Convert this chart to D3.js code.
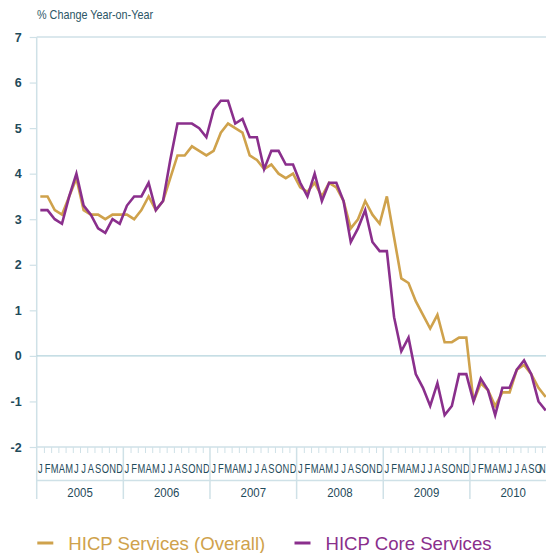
<!DOCTYPE html>
<html>
<head>
<meta charset="utf-8">
<script src="https://cdn.jsdelivr.net/npm/d3@7"></script>
<style>
  body { margin: 0; background: #fff; }
  svg { display: block; }
  text { font-family: "Liberation Sans", Arial, sans-serif; }
</style>
</head>
<body>
<div id="chart"></div>
<script>
// data: monthly values, Jan 2005 .. Nov 2010
var years = ["2005", "2006", "2007", "2008", "2009", "2010"];
var monthLabels = ["J", "F", "M", "A", "M", "J", "J", "A", "S", "O", "N", "D"];
var yTicks = [-2, -1, 0, 1, 2, 3, 4, 5, 6, 7];
var seriesNames = ["HICP Services (Overall)", "HICP Core Services"];

var overall = [
  3.5, 3.5, 3.2, 3.1, 3.5, 3.9, 3.2, 3.1, 3.1, 3.0, 3.1, 3.1,
  3.1, 3.0, 3.2, 3.5, 3.2, 3.4, 3.9, 4.4, 4.4, 4.6, 4.5, 4.4,
  4.5, 4.9, 5.1, 5.0, 4.9, 4.4, 4.3, 4.1, 4.2, 4.0, 3.9, 4.0,
  3.7, 3.6, 3.8, 3.5, 3.8, 3.7, 3.4, 2.8, 3.0, 3.4, 3.1, 2.9,
  3.5, 2.6, 1.7, 1.6, 1.2, 0.9, 0.6, 0.9, 0.3, 0.3, 0.4, 0.4,
  -1.0, -0.6, -0.75, -1.1, -0.8, -0.8, -0.3, -0.2, -0.4, -0.7, -0.9
];
var core = [
  3.2, 3.2, 3.0, 2.9, 3.5, 4.0, 3.3, 3.1, 2.8, 2.7, 3.0, 2.9,
  3.3, 3.5, 3.5, 3.8, 3.2, 3.4, 4.3, 5.1, 5.1, 5.1, 5.0, 4.8,
  5.4, 5.6, 5.6, 5.1, 5.2, 4.8, 4.8, 4.1, 4.5, 4.5, 4.2, 4.2,
  3.8, 3.5, 4.0, 3.4, 3.8, 3.8, 3.4, 2.5, 2.8, 3.2, 2.5, 2.3,
  2.3, 0.85, 0.1, 0.4, -0.4, -0.7, -1.1, -0.6, -1.3, -1.1, -0.4, -0.4,
  -1.0, -0.5, -0.75, -1.3, -0.7, -0.7, -0.3, -0.1, -0.4, -1.0, -1.2
];

var svgWidth = 546;
var svgHeight = 553;
var axisColor = "#cfe1e7";
var textColor = "#1f4b5b";
var colors = ["#cfa24c", "#8a2f8c"];

var svg = d3.select("#chart")
    .append("svg")
    .attr("width", svgWidth)
    .attr("height", svgHeight);

// scales
var nMonths = years.length * 12;
var xScale = d3.scaleLinear()
    .domain([0, nMonths])
    .range([36.7, 36.7 + nMonths * 7.22]);
var yScale = d3.scaleLinear()
    .domain([-2, 7])
    .range([447, 37]);

// axis title (condensed face squeezed to width)
svg.append("text")
    .attr("x", 37)
    .attr("y", 19)
    .attr("font-size", "13px")
    .attr("fill", "#2c5666")
    .attr("textLength", 116)
    .attr("lengthAdjust", "spacingAndGlyphs")
    .text("% Change Year-on-Year");

// y axis
var leftAxis = d3.axisLeft(yScale)
    .tickValues(yTicks)
    .tickSize(7)
    .tickPadding(8)
    .tickFormat(function(d) { return String(d); });
var yAxisG = svg.append("g")
    .attr("transform", "translate(36.7,0)")
    .call(leftAxis);
yAxisG.select(".domain").remove();
yAxisG.selectAll("line").attr("stroke", axisColor).attr("stroke-width", 1.2);
yAxisG.selectAll("text")
    .attr("font-size", "12.5px")
    .attr("font-weight", "bold")
    .attr("fill", textColor)
    .style("font-family", "'Liberation Sans', Arial, sans-serif");

// vertical axis line, running down through the year band
svg.append("line")
    .attr("x1", xScale(0)).attr("x2", xScale(0))
    .attr("y1", yScale(7)).attr("y2", 499)
    .attr("stroke", axisColor)
    .attr("stroke-width", 1.5);

// top border and bottom axis
[7, -2].forEach(function(v) {
  svg.append("line")
      .attr("x1", xScale(0)).attr("x2", svgWidth)
      .attr("y1", yScale(v)).attr("y2", yScale(v))
      .attr("stroke", axisColor)
      .attr("stroke-width", 1.5);
});

// zero line
svg.append("line")
    .attr("x1", xScale(0)).attr("x2", svgWidth)
    .attr("y1", yScale(0)).attr("y2", yScale(0))
    .attr("stroke", "#b3d3dc")
    .attr("stroke-width", 1.2);

// month ticks
var bottomAxis = d3.axisBottom(xScale)
    .tickValues(d3.range(1, nMonths).filter(function(d) { return d % 12 != 0; }))
    .tickSize(6)
    .tickFormat("");
var xAxisG = svg.append("g")
    .attr("transform", "translate(0," + yScale(-2) + ")")
    .call(bottomAxis);
xAxisG.select(".domain").remove();
xAxisG.selectAll("line").attr("stroke", axisColor);

// month letters (only those that reach into the picture)
var months = d3.range(nMonths).filter(function(d) { return xScale(d + 0.5) < svgWidth + 1; });
svg.selectAll(".monthLabel")
    .data(months)
    .enter()
    .append("text")
    .attr("class", "monthLabel")
    .attr("transform", function(d) {
      var cx = Math.min(xScale(d + 0.5), svgWidth - 3.6);
      return "translate(" + cx + ",472.5) scale(0.72,1)";
    })
    .attr("text-anchor", "middle")
    .attr("font-size", "13px")
    .attr("fill", textColor)
    .text(function(d) { return monthLabels[d % 12]; });

// year band
svg.append("line")
    .attr("x1", xScale(0)).attr("x2", svgWidth)
    .attr("y1", 480.5).attr("y2", 480.5)
    .attr("stroke", axisColor)
    .attr("stroke-width", 1.5);
svg.selectAll(".yearSep")
    .data(d3.range(1, years.length))
    .enter()
    .append("line")
    .attr("class", "yearSep")
    .attr("x1", function(d) { return xScale(d * 12); })
    .attr("x2", function(d) { return xScale(d * 12); })
    .attr("y1", yScale(-2))
    .attr("y2", 499)
    .attr("stroke", axisColor)
    .attr("stroke-width", 1.5);
svg.selectAll(".yearLabel")
    .data(years)
    .enter()
    .append("text")
    .attr("class", "yearLabel")
    .attr("transform", function(d, i) {
      return "translate(" + xScale(i * 12 + 6) + ",497.3) scale(0.88,1)";
    })
    .attr("text-anchor", "middle")
    .attr("font-size", "13px")
    .attr("fill", textColor)
    .text(function(d) { return d; });

// lines
var line = d3.line()
    .x(function(d, i) { return xScale(i + 0.5); })
    .y(function(d) { return yScale(d); });

[overall, core].forEach(function(series, k) {
  svg.append("path")
      .datum(series)
      .attr("fill", "none")
      .attr("stroke", colors[k])
      .attr("stroke-width", 2.6)
      .attr("stroke-linejoin", "miter")
      .attr("d", line);
});

// legend
var legendX = [37.3, 294.5];
seriesNames.forEach(function(name, k) {
  svg.append("line")
      .attr("x1", legendX[k]).attr("x2", legendX[k] + 16)
      .attr("y1", 543).attr("y2", 543)
      .attr("stroke", colors[k])
      .attr("stroke-width", 3);
  svg.append("text")
      .attr("x", legendX[k] + 31)
      .attr("y", 549.5)
      .attr("font-size", "18.6px")
      .attr("fill", colors[k])
      .text(name);
});
</script>
</body>
</html>
